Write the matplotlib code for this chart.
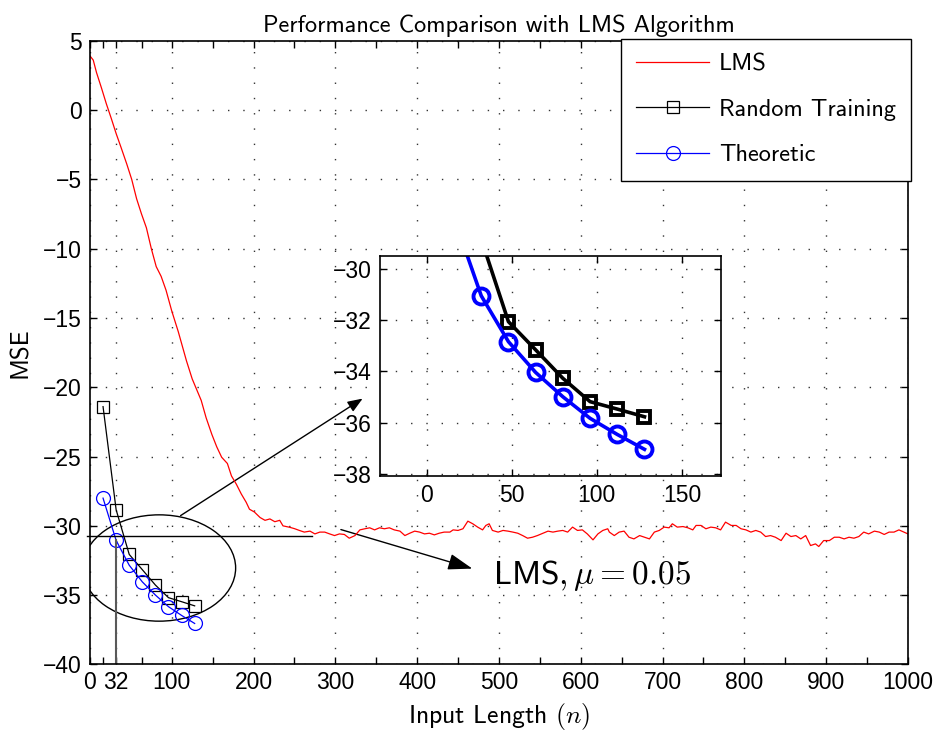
import matplotlib
matplotlib.use('Agg')
import matplotlib.pyplot as plt
from matplotlib.patches import Ellipse, FancyArrowPatch

plt.rcParams['mathtext.fontset'] = 'cm'
plt.rcParams['axes.unicode_minus'] = True

# LMS learning curve
lms_n = [0, 4, 8, 14, 20, 26, 32, 38, 45, 51, 57, 63, 69, 75, 81, 87, 93, 100, 108,
         118, 125, 136, 142, 149, 155, 161, 168, 173, 179, 185, 191, 195, 201, 208,
         214, 220, 226, 232, 236, 244, 250, 256,
         262, 269, 275, 281, 287, 293, 299, 305, 311, 317, 324, 330, 336, 342, 348,
         354, 360, 366, 372, 379, 385, 391, 397, 403, 409, 415, 421, 427, 433, 440,
         444, 450, 456, 462, 468, 474, 480, 484, 488, 492, 499, 505, 511, 517, 523,
         529, 535, 541, 547, 554, 560, 566, 572, 578, 584, 590, 596, 602, 608, 615,
         621, 627, 633,
         635, 641, 647, 653, 659, 665, 672, 678, 684, 690, 696, 702, 708, 712, 718,
         725, 731, 737, 741, 747, 753, 759, 765, 771, 777, 784, 790, 796, 802, 808,
         814, 820, 826, 832, 838, 845, 851, 857, 863, 869, 875, 881, 887, 891, 897,
         904, 910, 916, 922, 928, 934, 940, 946, 952, 959, 965, 971, 977, 983, 989,
         995, 1000]
lms_mse = [3.9, 3.6, 2.7, 1.6, 0.45, -0.6, -1.7, -2.7, -3.9, -5.0, -6.4, -7.5, -8.5,
           -10.0, -11.3, -12.0, -13.0, -14.5, -16.0, -18.1, -19.4, -20.95, -22.2,
           -23.4, -24.3, -25.05, -25.5, -26.4, -27.0, -27.7, -28.3, -28.8, -29.0,
           -29.4, -29.6, -29.5, -29.7, -29.6, -30.0, -30.1, -30.2, -30.33,
           -30.45, -30.38, -30.58, -30.45, -30.45, -30.58, -30.70, -30.58, -30.62,
           -30.89, -30.70, -30.29, -30.21, -30.14, -30.29, -30.14, -30.21, -30.14,
           -30.29, -30.38, -30.70, -30.53, -30.38, -30.45, -30.58, -30.53, -30.65,
           -30.53, -30.45, -30.45, -30.29, -30.33, -30.21, -29.66, -29.85, -30.09,
           -30.29, -29.97, -29.85, -30.33, -30.45, -30.33, -30.38, -30.45, -30.53,
           -30.70, -30.89, -30.82, -30.70, -30.53, -30.38, -30.45, -30.38, -30.33,
           -30.45, -30.09, -30.33, -30.29, -30.58, -31.01, -30.58, -30.33, -30.21,
           -30.45, -30.70, -30.45, -30.38, -30.82, -30.94, -30.70, -30.82, -30.94,
           -30.45, -30.33, -30.09, -30.14, -29.85, -30.09, -30.05, -30.14, -30.29,
           -29.97, -29.97, -30.21, -30.09, -30.14, -30.29, -29.73, -29.97, -29.97,
           -30.21, -30.29, -30.45, -30.33, -30.45, -30.77, -30.70, -30.82, -31.06,
           -30.53, -30.77, -30.70, -30.94, -30.70, -31.42, -31.30, -31.49, -31.06,
           -31.06, -30.82, -30.82, -30.94, -30.82, -30.89, -30.77, -30.45, -30.58,
           -30.38, -30.45, -30.62, -30.45, -30.45, -30.29, -30.45, -30.58]

train_n = [16, 32, 48, 64, 80, 96, 112, 128]
random_mse = [-21.4, -28.84, -32.06, -33.16, -34.27, -35.18, -35.47, -35.77]
theory_mse = [-28.0, -31.05, -32.84, -34.04, -34.99, -35.83, -36.46, -37.04]

main_ticks = [0, 32, 100, 200, 300, 400, 500, 600, 700, 800, 900, 1000]
minor_ticks = [16, 64, 150, 250, 350, 450, 550, 650, 750, 850, 950]

TICKFONT = 'Liberation Sans'
CMSS = 'cmss10'
grid_kw = dict(linestyle=(0, (1, 10)), color='0.2', linewidth=1.0)

fig = plt.figure(figsize=(9.43, 7.34), dpi=100)
ax = fig.add_axes([0.0954, 0.0947, 0.8674, 0.8499])

ax.plot(lms_n, lms_mse, color='r', lw=0.9, label='LMS')
ax.plot(train_n, random_mse, color='k', lw=0.9, marker='s', ms=8.5,
        mfc='none', mew=0.9, label='Random Training')
ax.plot(train_n, theory_mse, color='b', lw=0.9, marker='o', ms=10,
        mfc='none', mew=0.9, label='Theoretic')

ax.set_xlim(0, 1000)
ax.set_ylim(-40, 5)
ax.set_xticks(main_ticks)
ax.set_xticks(minor_ticks, minor=True)
ax.set_yticks(range(-40, 6, 5))
ax.tick_params(which='both', direction='in', top=True, right=True, length=5,
               width=1.0, labelsize=16.5, pad=6)
ax.tick_params(axis='x', pad=5)
for lab in ax.get_xticklabels() + ax.get_yticklabels():
    lab.set_fontfamily(TICKFONT)
for s in ax.spines.values():
    s.set_linewidth(1.2)
ax.grid(True, which='major', **grid_kw)

ax.set_title('Performance Comparison with LMS Algorithm', fontfamily=CMSS,
             fontsize=17.5, pad=6)
ax.set_xlabel('Input Length $(n)$', fontfamily=CMSS, fontsize=18.5, labelpad=5)
ax.set_ylabel('MSE', fontfamily=CMSS, fontsize=18, labelpad=8)

leg = ax.legend(loc='upper right', bbox_to_anchor=(1.004, 1.003),
                borderaxespad=0, fancybox=False, framealpha=1, edgecolor='k',
                prop={'family': CMSS, 'size': 17.5}, handlelength=3.0,
                handletextpad=0.4, labelspacing=0.95, borderpad=0.62)
leg.get_frame().set_linewidth(1.0)

# annotation marks
ax.add_patch(Ellipse((84.6, -33.04), 187, 7.67, fill=False, color='k', lw=1.0))
ax.plot([-4, 271], [-30.74, -30.74], color='k', lw=1.0, clip_on=False)
ax.plot([32, 32], [-31.05, -40], color='0.35', lw=1.5)
ax.add_patch(FancyArrowPatch((107.9, -29.37), (336.2, -20.71),
                             arrowstyle='-|>,head_length=9,head_width=3.5',
                             color='k', lw=1.0, mutation_scale=1))
ax.add_patch(FancyArrowPatch((303.5, -30.21), (470.7, -33.14),
                             arrowstyle='-|>,head_length=15,head_width=5',
                             color='k', lw=1.0, mutation_scale=1))
ax.text(492.3, -34.17, 'LMS$,\\mu=0.05$', fontfamily=CMSS, fontsize=24,
        va='baseline', ha='left')

# zoomed inset
axin = fig.add_axes([0.4030, 0.3515, 0.3616, 0.2997])
axin.plot(train_n, random_mse, color='k', lw=2.6, marker='s', ms=8,
          mfc='none', mew=2.8)
axin.plot(train_n, theory_mse, color='b', lw=2.6, marker='o', ms=11.5,
          mfc='none', mew=2.8)
axin.set_xlim(-27.5, 173)
axin.set_ylim(-38.08, -29.5)
axin.set_xticks([0, 50, 100, 150])
axin.set_yticks([-38, -36, -34, -32, -30])
axin.tick_params(direction='in', top=True, right=True, length=5, width=1.0,
                 labelsize=16.5, pad=6)
for lab in axin.get_xticklabels() + axin.get_yticklabels():
    lab.set_fontfamily(TICKFONT)
for s in axin.spines.values():
    s.set_linewidth(1.2)
axin.grid(True, **grid_kw)

fig.savefig('out.png', dpi=100)
